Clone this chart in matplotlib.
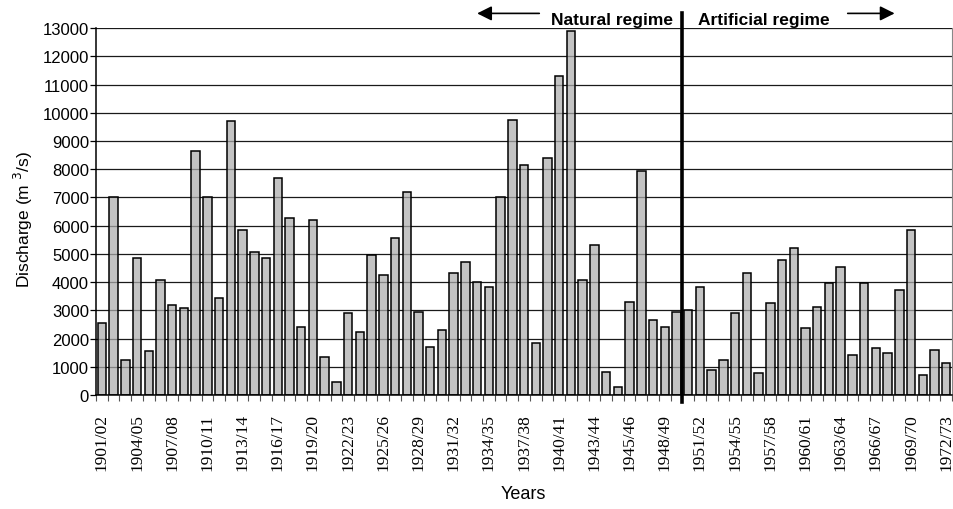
import matplotlib
matplotlib.use("Agg")
import matplotlib.pyplot as plt
import matplotlib.transforms as mtransforms
import numpy as np

# Annual discharge, one bar per hydrological year (1901/02 ... 1972/73)
discharge = [
    2550, 7000, 1250, 4850, 1550, 4080, 3200, 3070, 8630, 7030,
    3430, 9690, 5860, 5080, 4850, 7680, 6260, 2420, 6200, 1360,
    470, 2900, 2250, 4960, 4260, 5560, 7210, 2950, 1710, 2300,
    4310, 4730, 4020, 3840, 7030, 9750, 8160, 1830, 8390, 11290,
    12880, 4080, 5320, 830, 300, 3310, 7920, 2660, 2420, 2950,
    3010, 3840, 890, 1240, 2900, 4310, 770, 3250, 4790, 5200,
    2360, 3130, 3960, 4550, 1420, 3960, 1650, 1480, 3720, 5850,
    710, 1600, 1120,
]
# labels shown under every third bar
tick_labels = [
    "1901/02", "1904/05", "1907/08", "1910/11", "1913/14", "1916/17",
    "1919/20", "1922/23", "1925/26", "1928/29", "1931/32", "1934/35",
    "1937/38", "1940/41", "1943/44", "1945/46", "1948/49", "1951/52",
    "1954/55", "1957/58", "1960/61", "1963/64", "1966/67", "1969/70",
    "1972/73",
]
regime_split = 49.5  # between 1949/50 and 1950/51

sans = ["Liberation Sans", "DejaVu Sans"]
serif = ["Liberation Serif", "DejaVu Serif"]

fig = plt.figure(figsize=(9.54, 5.10), dpi=100)
ax = fig.add_axes([0.1006, 0.2235, 0.8974, 0.7195])

x = np.arange(len(discharge))
ax.set_axisbelow(True)
ax.yaxis.grid(True, color="#1a1a1a", linewidth=0.9)
ax.bar(x, discharge, width=0.72, facecolor=(0.68, 0.68, 0.68, 0.72),
       edgecolor="black", linewidth=1.1, zorder=2)

ax.set_xlim(-0.5, len(discharge) - 0.5)
ax.set_ylim(0, 13000)
ax.set_yticks(np.arange(0, 13001, 1000))
for lab in ax.get_yticklabels():
    lab.set_family(sans)
ax.tick_params(axis="y", labelsize=12, length=4, width=0.9, pad=1)

ax.set_xticks(x[::3])
ax.set_xticklabels(tick_labels, rotation=90, family=serif, fontsize=12.5)
ax.set_xticks(np.arange(-0.5, len(discharge), 1), minor=True)
ax.tick_params(axis="x", which="major", length=0, pad=13)
ax.tick_params(axis="x", which="minor", length=4, width=0.8, color="#555555")

ax.spines["top"].set_visible(False)
ax.spines["right"].set_color("#888888")
ax.spines["left"].set_linewidth(1.1)
ax.spines["bottom"].set_linewidth(1.1)

ax.set_ylabel("Discharge (m $^{3}$/s)", family=sans, fontsize=12.5)
ax.yaxis.set_label_coords(-0.071, 0.48)
ax.set_xlabel("Years", family=sans, fontsize=13)
ax.xaxis.set_label_coords(0.499, -0.245)

# regime boundary
ax.axvline(regime_split, ymin=-0.02, ymax=1.04, color="black",
           linewidth=2.6, clip_on=False, zorder=5)

trans = mtransforms.blended_transform_factory(ax.transData, ax.transAxes)
ax.text(48.7, 1.004, "Natural regime", transform=trans, ha="right",
        va="bottom", fontsize=12.5, fontweight="bold", family=sans)
ax.text(50.8, 1.004, "Artificial regime", transform=trans, ha="left",
        va="bottom", fontsize=12.5, fontweight="bold", family=sans)
ax.annotate("", xy=(32.0, 1.04), xytext=(37.3, 1.04), xycoords=trans,
            textcoords=trans,
            arrowprops=dict(arrowstyle="-|>", color="black", lw=1.2,
                            mutation_scale=22, shrinkA=0, shrinkB=0))
ax.annotate("", xy=(67.6, 1.04), xytext=(63.6, 1.04), xycoords=trans,
            textcoords=trans,
            arrowprops=dict(arrowstyle="-|>", color="black", lw=1.2,
                            mutation_scale=22, shrinkA=0, shrinkB=0))

fig.savefig("out.png", dpi=100)
